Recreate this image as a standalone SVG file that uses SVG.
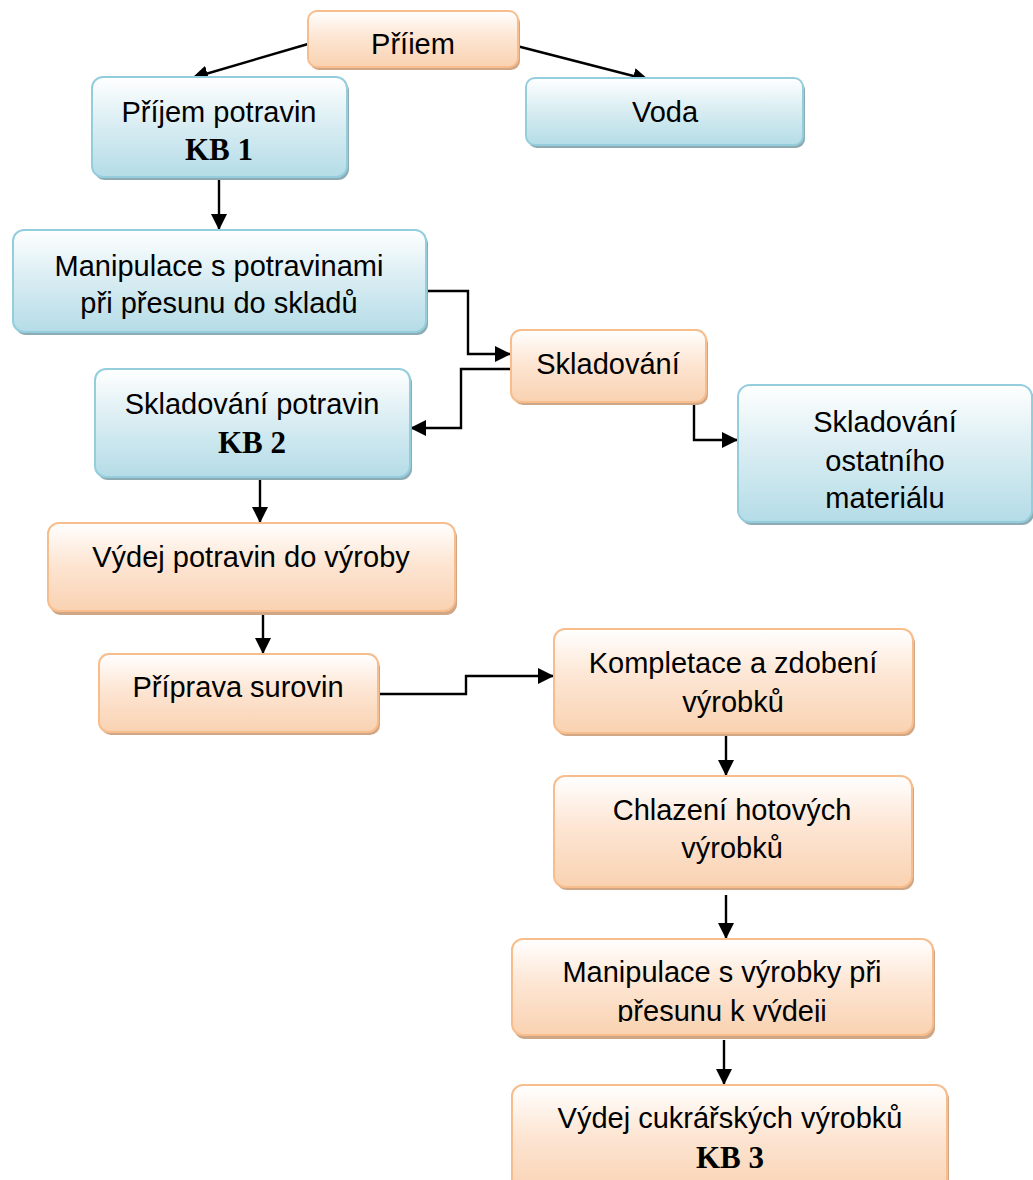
<svg xmlns="http://www.w3.org/2000/svg" width="1033" height="1180" viewBox="0 0 1033 1180">
  <style>
    .txt { font-family: "Liberation Sans", Arial, sans-serif; font-size: 29px; fill: #000; text-anchor: middle; }
    .kb { font-family: "Liberation Serif", "Times New Roman", serif; font-size: 31px; font-weight: bold; fill: #000; text-anchor: middle; }
    .o-box { fill: url(#gOrange); stroke: #f8bd8c; stroke-width: 2; }
    .o-sh { fill: #cfa686; }
    .b-box { fill: url(#gBlue); stroke: #94cedd; stroke-width: 2; }
    .b-sh { fill: #8eabb4; }
    .link { fill: none; stroke: #000; stroke-width: 2.4; marker-end: url(#arrow); }
  </style>
  <defs>
    <linearGradient id="gOrange" x1="0" y1="0" x2="0" y2="1">
      <stop offset="0" stop-color="#ffffff"/>
      <stop offset="0.45" stop-color="#fde6d4"/>
      <stop offset="1" stop-color="#f9d2b1"/>
    </linearGradient>
    <linearGradient id="gBlue" x1="0" y1="0" x2="0" y2="1">
      <stop offset="0" stop-color="#ffffff"/>
      <stop offset="0.45" stop-color="#dbeef3"/>
      <stop offset="1" stop-color="#b4dce7"/>
    </linearGradient>
    <marker id="arrow" markerUnits="userSpaceOnUse" markerWidth="16" markerHeight="16" viewBox="0 0 16 16" refX="16" refY="8" orient="auto">
      <path d="M0,0 L16,8 L0,16 z" fill="#000"/>
    </marker>
    <clipPath id="clipMat"><rect x="738" y="385" width="295" height="124"/></clipPath>
    <clipPath id="clipPres"><rect x="512" y="939" width="421" height="83"/></clipPath>
  </defs>

  <!-- connectors -->
  <g id="connectors">
    <path class="link" d="M308,44 L192,78"/>
    <path class="link" d="M513,45 L649,80"/>
    <path class="link" d="M219,177 L219,230"/>
    <path class="link" d="M426,291 L468,291 L468,354 L511,354"/>
    <path class="link" d="M511,369 L461,369 L461,428 L410,428"/>
    <path class="link" d="M648,400 L694,400 L694,440 L738,440"/>
    <path class="link" d="M260,478 L260,523"/>
    <path class="link" d="M263,610 L263,654"/>
    <path class="link" d="M376,694 L466,694 L466,676 L554,676"/>
    <path class="link" d="M726,733 L726,776"/>
    <path class="link" d="M726,895 L726,939"/>
    <path class="link" d="M724,1040 L724,1085"/>
  </g>

  <!-- Příiem -->
  <g id="node-priem">
    <rect class="o-sh" x="310" y="14" width="210" height="56" rx="9"/>
    <rect class="o-box" x="308" y="11" width="210" height="56" rx="9"/>
    <text class="txt" x="413" y="54">Příiem</text>
  </g>

  <!-- Příjem potravin KB 1 -->
  <g id="node-prijem-potravin">
    <rect class="b-sh" x="94" y="80" width="255" height="100" rx="11"/>
    <rect class="b-box" x="92" y="77" width="255" height="100" rx="11"/>
    <text class="txt" x="219" y="122">Příjem potravin</text>
    <text class="kb" x="219" y="160">KB 1</text>
  </g>

  <!-- Voda -->
  <g id="node-voda">
    <rect class="b-sh" x="528" y="81" width="277" height="67" rx="9"/>
    <rect class="b-box" x="526" y="78" width="277" height="67" rx="9"/>
    <text class="txt" x="665" y="122">Voda</text>
  </g>

  <!-- Manipulace s potravinami -->
  <g id="node-manipulace-potraviny">
    <rect class="b-sh" x="15" y="233" width="413" height="102" rx="11"/>
    <rect class="b-box" x="13" y="230" width="413" height="102" rx="11"/>
    <text class="txt" x="219" y="276">Manipulace s potravinami</text>
    <text class="txt" x="219" y="313">při přesunu do skladů</text>
  </g>

  <!-- Skladování -->
  <g id="node-skladovani">
    <rect class="o-sh" x="513" y="333" width="195" height="72" rx="10"/>
    <rect class="o-box" x="511" y="330" width="195" height="72" rx="10"/>
    <text class="txt" x="608" y="374">Skladování</text>
  </g>

  <!-- Skladování potravin KB 2 -->
  <g id="node-skladovani-potravin">
    <rect class="b-sh" x="97" y="372" width="315" height="108" rx="11"/>
    <rect class="b-box" x="95" y="369" width="315" height="108" rx="11"/>
    <text class="txt" x="252" y="414">Skladování potravin</text>
    <text class="kb" x="252" y="453">KB 2</text>
  </g>

  <!-- Skladování ostatního materiálu -->
  <g id="node-skladovani-ostatni">
    <rect class="b-sh" x="740" y="388" width="294" height="137" rx="12"/>
    <rect class="b-box" x="738" y="385" width="294" height="137" rx="12"/>
    <text class="txt" x="885" y="432">Skladování</text>
    <text class="txt" x="885" y="471">ostatního</text>
    <text class="txt" x="885" y="508" clip-path="url(#clipMat)">materiálu</text>
  </g>

  <!-- Výdej potravin do výroby -->
  <g id="node-vydej-potravin">
    <rect class="o-sh" x="50" y="526" width="407" height="89" rx="11"/>
    <rect class="o-box" x="48" y="523" width="407" height="88" rx="11"/>
    <text class="txt" x="251" y="567">Výdej potravin do výroby</text>
  </g>

  <!-- Příprava surovin -->
  <g id="node-priprava-surovin">
    <rect class="o-sh" x="101" y="657" width="279" height="78" rx="10"/>
    <rect class="o-box" x="99" y="654" width="279" height="78" rx="10"/>
    <text class="txt" x="238" y="697">Příprava surovin</text>
  </g>

  <!-- Kompletace a zdobení výrobků -->
  <g id="node-kompletace">
    <rect class="o-sh" x="556" y="632" width="359" height="104" rx="11"/>
    <rect class="o-box" x="554" y="629" width="359" height="104" rx="11"/>
    <text class="txt" x="733" y="673">Kompletace a zdobení</text>
    <text class="txt" x="733" y="712">výrobků</text>
  </g>

  <!-- Chlazení hotových výrobků -->
  <g id="node-chlazeni">
    <rect class="o-sh" x="556" y="779" width="358" height="111" rx="11"/>
    <rect class="o-box" x="554" y="776" width="358" height="111" rx="11"/>
    <text class="txt" x="732" y="820">Chlazení hotových</text>
    <text class="txt" x="732" y="858">výrobků</text>
  </g>

  <!-- Manipulace s výrobky při přesunu k výdeji -->
  <g id="node-manipulace-vyrobky">
    <rect class="o-sh" x="514" y="942" width="421" height="97" rx="11"/>
    <rect class="o-box" x="512" y="939" width="421" height="96" rx="11"/>
    <text class="txt" x="722" y="982">Manipulace s výrobky při</text>
    <text class="txt" x="722" y="1021" clip-path="url(#clipPres)">přesunu k výdeji</text>
  </g>

  <!-- Výdej cukrářských výrobků KB 3 -->
  <g id="node-vydej-vyrobku">
    <rect class="o-sh" x="514" y="1088" width="435" height="110" rx="11"/>
    <rect class="o-box" x="512" y="1085" width="435" height="110" rx="11"/>
    <text class="txt" x="730" y="1128">Výdej cukrářských výrobků</text>
    <text class="kb" x="730" y="1168">KB 3</text>
  </g>
</svg>
